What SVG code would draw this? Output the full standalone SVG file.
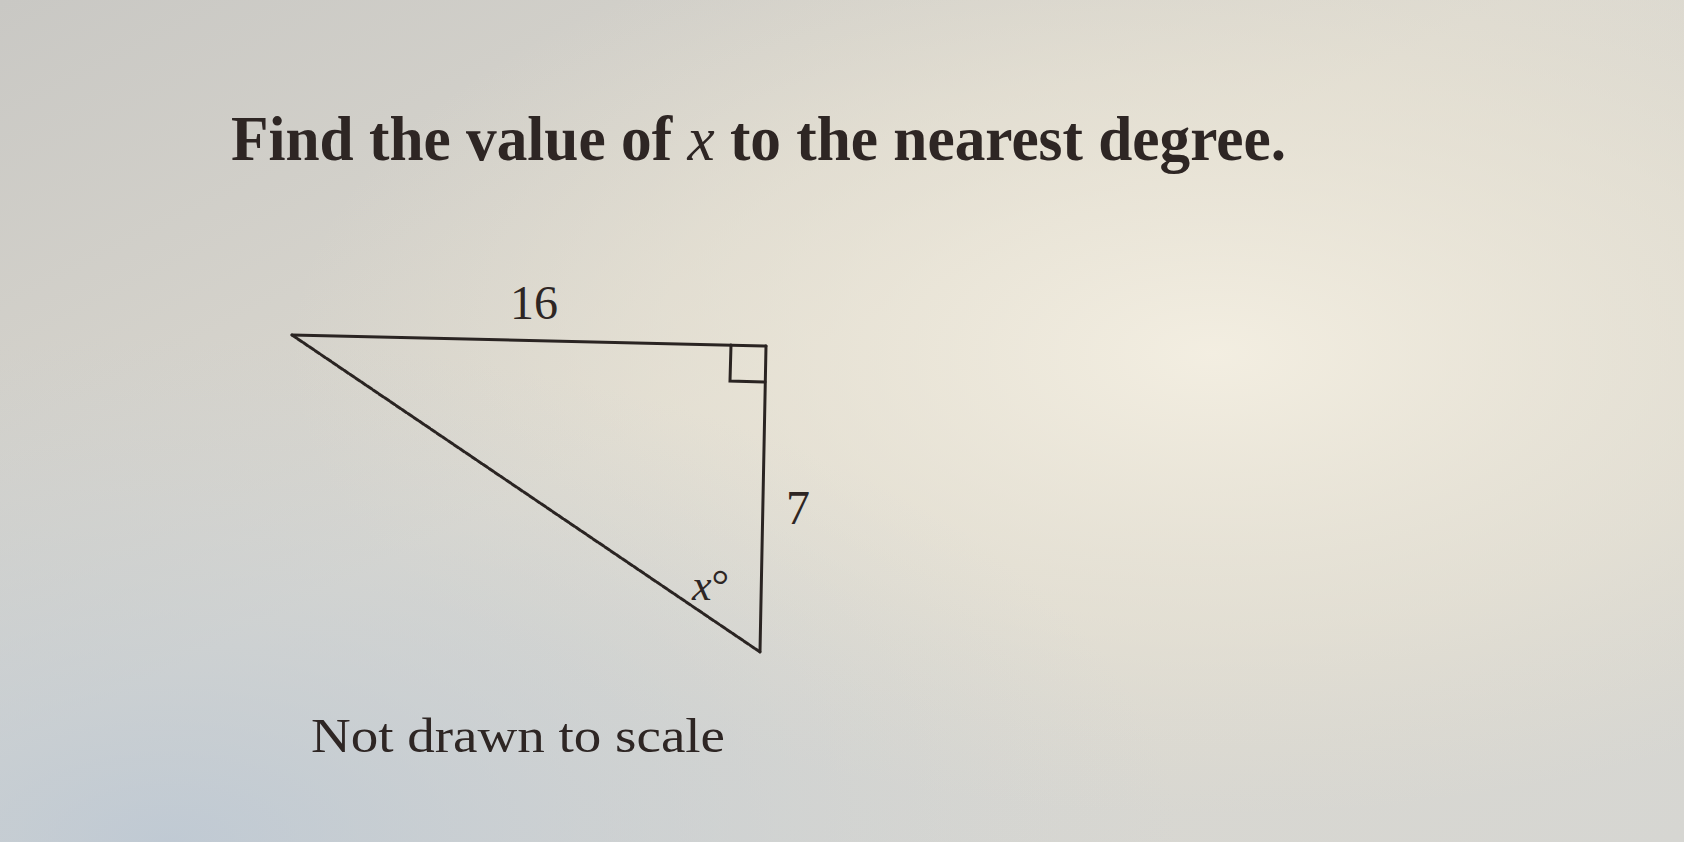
<svg xmlns="http://www.w3.org/2000/svg" width="1684" height="842" viewBox="0 0 1684 842">
  <defs>
    <linearGradient id="bg" x1="0" y1="0" x2="1" y2="1">
      <stop offset="0" stop-color="#c9c8c4"/>
      <stop offset="0.45" stop-color="#dcd9d0"/>
      <stop offset="1" stop-color="#d6d6d2"/>
    </linearGradient>
    <radialGradient id="glow" cx="0.72" cy="0.42" r="0.55">
      <stop offset="0" stop-color="#f4efe2" stop-opacity="0.95"/>
      <stop offset="0.6" stop-color="#ece6d6" stop-opacity="0.5"/>
      <stop offset="1" stop-color="#e6e0d0" stop-opacity="0"/>
    </radialGradient>
    <radialGradient id="blue" cx="0.1" cy="1" r="0.6">
      <stop offset="0" stop-color="#b9c6d4" stop-opacity="0.8"/>
      <stop offset="1" stop-color="#c4ccd4" stop-opacity="0"/>
    </radialGradient>
    <style>
      .t { font-family: "Liberation Serif", "Times New Roman", serif; fill: #2e2624; }
      .edge { stroke: #2a2422; stroke-width: 3; fill: none; stroke-linecap: round; }
    </style>
  </defs>
  <rect width="1684" height="842" fill="url(#bg)"/>
  <rect width="1684" height="842" fill="url(#glow)"/>
  <rect width="1684" height="842" fill="url(#blue)"/>

  <g id="title">
    <text class="t" x="231" y="160" font-size="64" font-weight="bold" textLength="1055" lengthAdjust="spacingAndGlyphs">Find the value of <tspan font-style="italic" font-weight="normal">x</tspan> to the nearest degree.</text>
  </g>

  <g id="connectors">
    <line class="edge" x1="292" y1="335" x2="766" y2="346"/>
    <line class="edge" x1="766" y1="346" x2="760" y2="652"/>
    <line class="edge" x1="292" y1="335" x2="760" y2="652" stroke-dasharray="5 2"/>
    <polyline class="edge" points="731,345 730,381 765,382"/>
  </g>

  <g id="label-16">
    <text class="t" x="534" y="319" font-size="48" text-anchor="middle">16</text>
  </g>
  <g id="label-7">
    <text class="t" x="798" y="524" font-size="48" text-anchor="middle">7</text>
  </g>
  <g id="label-x">
    <text class="t" x="692" y="600" font-size="44"><tspan font-style="italic">x</tspan>°</text>
  </g>
  <g id="note">
    <text class="t" x="311" y="752" font-size="48" textLength="414" lengthAdjust="spacingAndGlyphs">Not drawn to scale</text>
  </g>
</svg>
